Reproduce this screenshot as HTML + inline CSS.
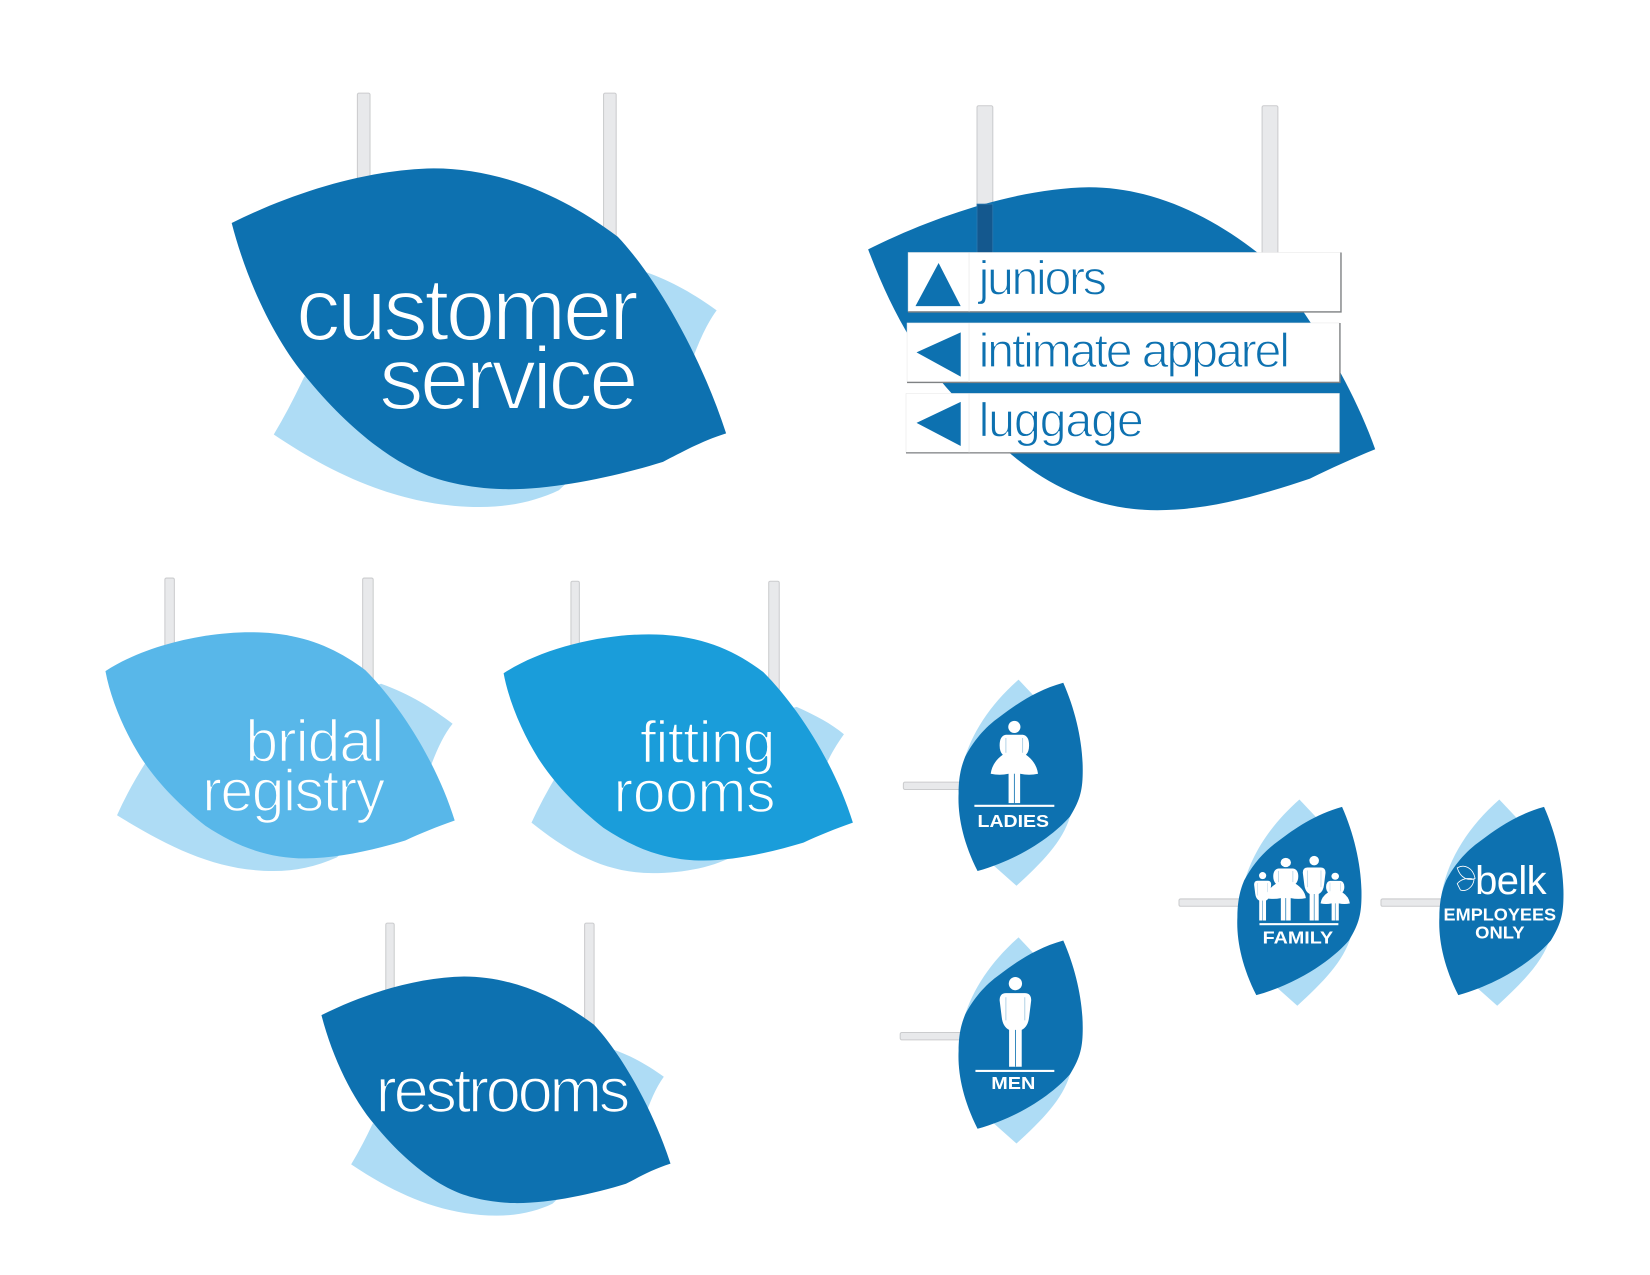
<!DOCTYPE html>
<html><head><meta charset="utf-8"><style>
html,body{margin:0;padding:0;background:#fff}
svg{display:block}
text{font-family:"Liberation Sans",sans-serif}
.p{fill:#e8e9eb;stroke:#cbccce;stroke-width:1}
.d{fill:#0d71b0}.l{fill:#aedcf5}
.t{fill:#fff;stroke-linejoin:round}
.b{font-weight:bold;fill:#fff}
</style></head><body>
<svg width="1650" height="1275" viewBox="0 0 1568 1212" xmlns="http://www.w3.org/2000/svg">
<defs>
<path id="back" d="M612 258C640 268 660 280 681 295C670 310 662 330 655 350L531 466C510 476 485 482 456 482C380 482 315 450 260 413Q275 388 289 358Z"/>
<path id="front" d="M220 212C280 182 350 161 412 160C470 160 530 182 587 225C622 262 665 335 690 412C665 420 648 430 630 439C585 453 525 466 478 465C445 464 415 457 395 447C360 430 325 400 292 360C262 325 235 270 220 212Z"/>
<path id="bfront" d="M100 638C135 615 190 601 238 601C285 601 318 615 347 637C380 670 415 725 432 780C415 786 400 792 385 799C355 808 320 816 290 816C255 816 225 805 195 785C170 765 150 745 133 719C118 695 105 665 100 638Z"/>
<path id="sback" d="M968 646L1000 680C1015 700 1020 740 1017 776C1010 800 990 820 966 842L930 810L912 745C915 710 935 675 968 646Z"/>
<path id="sfront" d="M1010.500 649C1022 675 1029 705 1029 732C1029 750 1027 760 1017 776C1005 790 975 815 929 828C915 800 910 775 911 754C911 735 915 725 917.400 719C925 705 935 692 950.600 681C965 670 985 656 1010.500 649Z"/>
<g id="lady" fill="#fff"><circle cx="0" cy="-72.500" r="5.800"/><path d="M-8 -65H8Q14 -64 14 -55Q14 -49 11 -46Q21 -39 22.500 -28Q14 -26 5.500 -28V0H-5.500V-28Q-14 -26 -22.500 -28Q-21 -39 -11 -46Q-14 -49 -14 -55Q-14 -64 -8 -65Z"/><path d="M0 -28V0" stroke="#0d71b0" stroke-width=".8"/><path d="M-8 -62V-48M8 -62V-48" stroke="#0d71b0" stroke-width=".5" stroke-opacity=".6"/></g>
<g id="man" fill="#fff"><circle cx="0" cy="-79" r="6.300"/><path d="M-9 -70H9Q15 -70 15 -63L13 -47Q12 -38 6 -35V0H-6V-35Q-12 -38 -13 -47L-15 -63Q-15 -70 -9 -70Z"/><path d="M0 -35V0" stroke="#0d71b0" stroke-width=".8"/><path d="M-9 -66V-44M9 -66V-44" stroke="#0d71b0" stroke-width=".5" stroke-opacity=".6"/></g>
</defs>

<!-- customer service -->
<rect class="p" x="339.500" y="88.500" width="12" height="90" rx="1.500"/>
<rect class="p" x="573.500" y="88.500" width="12" height="150" rx="1.500"/>
<use href="#back" class="l"/><use href="#front" class="d"/>
<text class="t" x="281" y="323" font-size="85" textLength="326" stroke="#0d71b0" stroke-width="2">customer</text>
<text class="t" x="360" y="389" font-size="85" textLength="247" stroke="#0d71b0" stroke-width="2">service</text>

<!-- directory -->
<rect class="p" x="1199.500" y="100.500" width="15" height="145" rx="1.500"/>
<rect class="p" x="928.500" y="100.500" width="15" height="145" rx="1.500"/>
<path class="d" d="M825 237C885 207 965 179 1035 178C1095 178 1150 205 1195 240C1240 290 1285 365 1307 427C1285 436 1265 445 1245 455C1200 470 1150 485 1100 485C1020 485 960 440 915 385C870 340 845 290 825 237Z"/>
<rect x="928.500" y="194" width="15" height="47" fill="#14588e" stroke="#2a7ab2" stroke-width=".8"/>
<g fill="#fff">
<rect x="863" y="240" width="411" height="56" stroke="#e6e6e6" stroke-width=".5"/>
<rect x="862" y="307" width="411" height="56" stroke="#e6e6e6" stroke-width=".5"/>
<rect x="861" y="374" width="412" height="56" stroke="#e6e6e6" stroke-width=".5"/>
</g>
<g fill="none" stroke="#7f8284" stroke-width="1.300">
<path d="M863 296.500H1274.500V240"/><path d="M862 363.500H1273.500V307"/><path d="M861 430.500H1273.500"/>
</g>
<path d="M921 240V296M921 307V363M921 374V430" stroke="#f0f0f0" stroke-width="1"/>
<path class="d" d="M870 291H913L892 250ZM871 335L913 316V358ZM871 402L913 382V424Z"/>
<g class="d" stroke="#fff" stroke-width="1.100">
<text x="930" y="280" font-size="46" textLength="122">juniors</text>
<text x="930" y="349" font-size="46" textLength="296">intimate apparel</text>
<text x="930" y="415" font-size="46" textLength="157">luggage</text>
</g>

<!-- bridal -->
<rect class="p" x="156.500" y="549.500" width="9" height="75" rx="1.500"/>
<rect class="p" x="344.500" y="549.500" width="10" height="105" rx="1.500"/>
<path class="l" d="M362 650C390 660 410 673 430 688C420 700 412 720 405 740L320 815C300 824 280 828 260 828C205 828 160 805 111 775Q122 750 140 722Z"/>
<use href="#bfront" fill="#58b7e9"/>
<text class="t" x="233" y="724" font-size="56" textLength="132" stroke="#58b7e9" stroke-width="1.500">bridal</text>
<text class="t" x="192" y="771" font-size="56" textLength="174" stroke="#58b7e9" stroke-width="1.500">registry</text>

<!-- fitting -->
<rect class="p" x="542.500" y="552.500" width="8" height="70" rx="1.500"/>
<rect class="p" x="730.500" y="552.500" width="10" height="105" rx="1.500"/>
<path class="l" d="M757 672C775 680 790 688 802 698C792 712 785 725 780 740L700 812C680 824 650 830 620 830C575 830 540 810 505 782Q515 760 530 735Z"/>
<use href="#bfront" fill="#1a9dda" transform="translate(378.500 2)"/>
<text class="t" x="608" y="725" font-size="56" textLength="129" stroke="#1a9dda" stroke-width="1.500">fitting</text>
<text class="t" x="583" y="772" font-size="56" textLength="154" stroke="#1a9dda" stroke-width="1.500">rooms</text>

<!-- restrooms -->
<rect class="p" x="366.500" y="877.500" width="8" height="70" rx="1.500"/>
<rect class="p" x="555.500" y="877.500" width="9" height="105" rx="1.500"/>
<g transform="translate(150 815.300) scale(.706)"><use href="#back" class="l"/><use href="#front" class="d"/></g>
<text class="t" x="357" y="1057" font-size="60" textLength="242" stroke="#0d71b0" stroke-width="1.500">restrooms</text>

<!-- horizontal poles -->
<rect class="p" x="858.500" y="743.500" width="60" height="7" rx="1.500"/>
<rect class="p" x="855.500" y="981.500" width="62" height="7" rx="1.500"/>
<rect class="p" x="1120.500" y="854.500" width="62" height="7" rx="1.500"/>
<rect class="p" x="1312.500" y="854.500" width="62" height="7" rx="1.500"/>

<!-- ladies -->
<use href="#sback" class="l"/><use href="#sfront" class="d"/>
<use href="#lady" transform="translate(964 763.500)"/>
<rect x="926" y="765" width="76" height="2" fill="#fff"/>
<text class="b" x="929" y="786" font-size="17" textLength="68" lengthAdjust="spacingAndGlyphs">LADIES</text>

<!-- men -->
<g transform="translate(0 245)"><use href="#sback" class="l"/><use href="#sfront" class="d"/></g>
<use href="#man" transform="translate(965 1014)"/>
<rect x="927" y="1017" width="75" height="2" fill="#fff"/>
<text class="b" x="942" y="1035" font-size="17" textLength="42" lengthAdjust="spacingAndGlyphs">MEN</text>

<!-- family -->
<use href="#sback" class="l" transform="translate(267 114)"/><use href="#sfront" class="d" transform="translate(265 118)"/>
<use href="#man" transform="translate(1200 875) scale(.54)"/>
<use href="#lady" transform="translate(1222 875) scale(.85 .76)"/>
<use href="#man" transform="translate(1249 875) scale(.72)"/>
<use href="#lady" transform="translate(1269 875) scale(.62 .58)"/>
<rect x="1197" y="877.500" width="75" height="2" fill="#fff"/>
<text class="b" x="1200" y="897" font-size="17" textLength="67" lengthAdjust="spacingAndGlyphs">FAMILY</text>

<!-- belk -->
<use href="#sback" class="l" transform="translate(457 114)"/><use href="#sfront" class="d" transform="translate(457 118)"/>
<text fill="#fff" x="1402" y="850" font-size="38" textLength="68">belk</text>
<g fill="none" stroke="#fff" stroke-width=".8">
<path d="M1385 825C1392 821 1400 825 1402 835C1396 838 1388 835 1385 825Z"/>
<path d="M1385 840C1389 835 1396 834 1401 836C1400 844 1393 848 1388 846Z"/>
</g>
<text class="b" x="1372" y="875" font-size="17" textLength="107" lengthAdjust="spacingAndGlyphs">EMPLOYEES</text>
<text class="b" x="1402" y="892" font-size="17" textLength="47" lengthAdjust="spacingAndGlyphs">ONLY</text>
</svg>
</body></html>
